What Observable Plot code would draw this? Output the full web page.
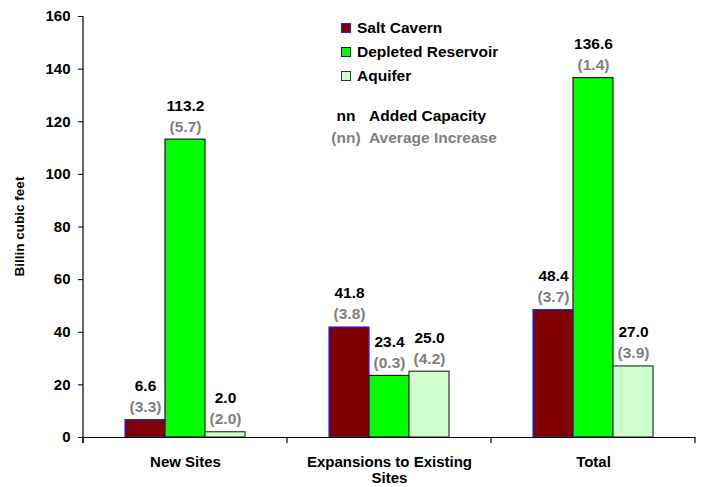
<!DOCTYPE html>
<html>
<head>
<meta charset="utf-8">
<script src="https://cdn.jsdelivr.net/npm/d3@7"></script>
<script src="https://cdn.jsdelivr.net/npm/@observablehq/plot@0.6"></script>
<style>
  body { margin: 0; background: #fff; font-family: "Liberation Sans", Arial, sans-serif; }
  #chart { position: relative; width: 702px; height: 487px; overflow: hidden; }
  .legend { position: absolute; left: 341px; top: 16px; font-weight: bold; font-size: 15.5px; color: #000; }
  .legend .row { display: flex; align-items: center; height: 24px; }
  .legend .swatch { width: 8px; height: 8px; margin-right: 6px; box-sizing: content-box; }
  .key { position: absolute; left: 325px; top: 105px; font-weight: bold; font-size: 15.5px; line-height: 22px; }
  .key .row { display: flex; }
  .key .sym { width: 42px; text-align: center; margin-right: 2px; }
  .gray { color: #808080; }
</style>
</head>
<body>
<div id="chart"></div>
<script>
// Storage capacity added, by type of site and by storage type
const categories = ["New Sites", "Expansions to Existing Sites", "Total"];
const series = ["Salt Cavern", "Depleted Reservoir", "Aquifer"];
const seriesFill = ["#800000", "#00ff00", "#ccffcc"];
const seriesStroke = ["#1f1fff", "#1a1a1a", "#333333"];

// Added capacity (Bcf)
const saltCavern = [6.6, 41.8, 48.4];
const depletedReservoir = [113.2, 23.4, 136.6];
const aquifer = [2.0, 25.0, 27.0];

// Average increase per site (Bcf)
const saltCavernIncrease = [3.3, 3.8, 3.7];
const depletedReservoirIncrease = [5.7, 0.3, 1.4];
const aquiferIncrease = [2.0, 4.2, 3.9];

const yTicks = [0, 20, 40, 60, 80, 100, 120, 140, 160];

const valuesBySeries = [saltCavern, depletedReservoir, aquifer];
const increaseBySeries = [saltCavernIncrease, depletedReservoirIncrease, aquiferIncrease];

const rows = [];
series.forEach((s, si) => {
  categories.forEach((c, ci) => {
    rows.push({category: c, series: s, value: valuesBySeries[si][ci], increase: increaseBySeries[si][ci]});
  });
});

const wrapLabel = (c) => c === "Expansions to Existing Sites" ? "Expansions to Existing\nSites" : c;

const plot = Plot.plot({
  width: 702,
  height: 487,
  marginLeft: 82,
  marginRight: 7,
  marginTop: 16,
  marginBottom: 50,
  style: { fontFamily: "'Liberation Sans', Arial, sans-serif", background: "#fff", overflow: "visible" },
  fx: { domain: categories, padding: 0, label: null },
  x: { domain: series, paddingInner: 0, paddingOuter: 1, axis: null },
  y: { domain: [0, 160], ticks: yTicks, label: null },
  color: { domain: series, range: seriesFill },
  marks: [
    Plot.barY(rows, {
      fx: "category", x: "series", y: "value",
      fill: "series",
      stroke: (d) => seriesStroke[series.indexOf(d.series)],
      strokeWidth: 1.2
    }),
    Plot.text(rows, {
      fx: "category", x: "series", y: "value",
      text: (d) => d.value.toFixed(1),
      dy: -34, fontSize: 15.5, fontWeight: "bold", fill: "#000"
    }),
    Plot.text(rows, {
      fx: "category", x: "series", y: "value",
      text: (d) => `(${d.increase.toFixed(1)})`,
      dy: -13, fontSize: 15.5, fontWeight: "bold", fill: "#808080"
    }),
    Plot.ruleY([0], { stroke: "#000", strokeWidth: 1.2 }),
    Plot.axisY({
      ticks: yTicks, tickSize: 5, tickPadding: 8,
      fontSize: 15, fontWeight: "bold", fill: "#000",
      label: null
    }),
    Plot.axisFx({
      anchor: "bottom", tickSize: 0, tickPadding: 19,
      tickFormat: wrapLabel, fontSize: 15, fontWeight: "bold",
      lineHeight: 1.02, label: null
    })
  ]
});

const chart = document.getElementById("chart");
chart.appendChild(plot);

// Value axis line, category boundary ticks and the value axis title
const svg = d3.select(plot);
const fx = plot.scale("fx");
const y = plot.scale("y");
const left = fx.apply(categories[0]);
const bw = fx.bandwidth;
const y0 = y.apply(0);
const yTop = y.apply(160);

svg.append("line")
  .attr("x1", left).attr("x2", left)
  .attr("y1", yTop).attr("y2", y0 + 6)
  .attr("stroke", "#000").attr("stroke-width", 1.2);

const edges = categories.map((c) => fx.apply(c) + bw).concat([left]);
svg.append("g").selectAll("line").data(edges).join("line")
  .attr("x1", (d) => d).attr("x2", (d) => d)
  .attr("y1", y0).attr("y2", y0 + 6)
  .attr("stroke", "#000").attr("stroke-width", 1.2);

svg.append("text")
  .attr("transform", `translate(19,${(y0 + yTop) / 2}) rotate(-90)`)
  .attr("text-anchor", "middle")
  .attr("dominant-baseline", "central")
  .attr("font-size", 13.5)
  .attr("font-weight", "bold")
  .text("Billin cubic feet");

// Series legend
const legend = document.createElement("div");
legend.className = "legend";
series.forEach((s, i) => {
  const row = document.createElement("div");
  row.className = "row";
  const sw = document.createElement("span");
  sw.className = "swatch";
  sw.style.background = seriesFill[i];
  sw.style.border = `1px solid ${seriesStroke[i]}`;
  const label = document.createElement("span");
  label.textContent = s;
  row.appendChild(sw);
  row.appendChild(label);
  legend.appendChild(row);
});
chart.appendChild(legend);

// Label key
const key = document.createElement("div");
key.className = "key";
key.innerHTML =
  '<div class="row"><span class="sym">nn</span><span>Added Capacity</span></div>' +
  '<div class="row gray"><span class="sym">(nn)</span><span>Average Increase</span></div>';
chart.appendChild(key);
</script>
</body>
</html>
